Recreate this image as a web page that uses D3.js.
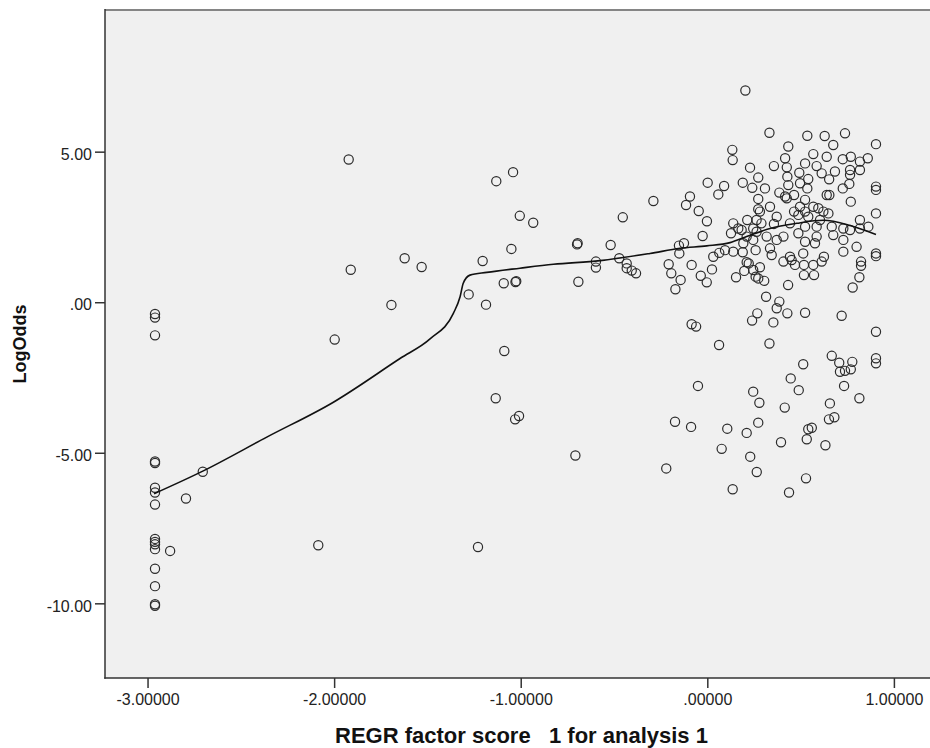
<!DOCTYPE html>
<html>
<head>
<meta charset="utf-8">
<script src="https://cdn.jsdelivr.net/npm/d3@7"></script>
<style>
  body { margin: 0; background: #ffffff; }
  text { font-family: "Liberation Sans", Arial, sans-serif; }
</style>
</head>
<body>
<svg id="chart" width="930" height="748"></svg>
<script>
// Factor scores (x) and log odds (y), grouped by region of the score axis.
const lowScores   = [-2.96,-2.96,-2.96,-2.96,-2.96,-2.96,-2.96,-2.96,-2.96,-2.96,-2.96,-2.96,-2.96,-2.96,-2.96,-2.96];
const lowOdds     = [-0.39,-0.51,-1.10,-5.29,-5.34,-6.16,-6.32,-6.72,-7.86,-7.96,-8.04,-8.20,-8.85,-9.43,-10.03,-10.08];

const leftScores  = [-2.879,-2.794,-2.704,-2.085,-1.997,-1.922,-1.911,-1.693,-1.622,-1.531];
const leftOdds    = [-8.26,-6.52,-5.63,-8.07,-1.24,4.74,1.08,-0.09,1.46,1.17];

const midScores   = [-1.279,-1.229,-1.204,-1.186,-1.134,-1.131,-1.091,-1.088,-1.050,-1.041,
                     -1.030,-1.028,-1.024,-1.009,-1.005,-0.933,-0.707,-0.698,-0.695,-0.691];
const midOdds     = [0.26,-8.13,1.37,-0.08,-3.19,4.02,0.63,-1.62,1.77,4.32,
                     -3.89,0.67,0.70,-3.78,2.87,2.64,-5.09,1.92,1.96,0.68];

const centerScores = [-0.597,-0.597,-0.518,-0.472,-0.453,-0.432,-0.432,-0.405,-0.382,-0.289,
                      -0.220,-0.207,-0.193,-0.173,-0.171,-0.152,-0.150,-0.143,-0.125,-0.114,
                      -0.093,-0.087,-0.084,-0.084,-0.060,-0.050,-0.046,-0.035,-0.025,-0.003,
                      -0.002,0.002,0.025,0.032,0.059,0.063,0.064,0.077,0.090,0.095,
                      0.107,0.127,0.134,0.136,0.136,0.139,0.139,0.154,0.166,0.184,
                      0.190,0.190,0.193,0.198];
const centerOdds   = [1.35,1.15,1.90,1.46,2.82,1.29,1.13,1.05,0.96,3.36,
                      -5.52,1.26,0.96,-3.97,0.43,1.88,1.62,0.74,1.96,3.23,
                      3.51,-4.14,1.24,-0.73,-0.81,-2.78,3.03,0.88,2.20,0.66,
                      2.69,3.97,1.09,1.51,3.58,-1.42,1.64,-4.87,3.86,1.73,
                      -4.20,2.29,5.06,4.72,-6.21,2.62,1.68,0.83,2.45,2.40,
                      3.97,1.66,1.96,1.04];

const rightScores = [0.204,0.211,0.211,0.211,0.214,0.222,0.229,0.230,0.240,0.241,
                     0.246,0.246,0.246,0.246,0.259,0.259,0.264,0.264,0.265,0.268,
                     0.273,0.273,0.273,0.273,0.273,0.279,0.282,0.282,0.290,0.305,
                     0.309,0.315,0.318,0.333,0.333,0.336,0.336,0.345,0.354,0.357,
                     0.357,0.372,0.372,0.372,0.386,0.386,0.395,0.408,0.408,0.415,
                     0.417,0.417,0.426,0.426,0.429,0.429,0.433,0.434,0.434,0.438,
                     0.443,0.443,0.447,0.452,0.465,0.465,0.470,0.488,0.488,0.490,
                     0.493,0.497,0.497];
const rightOdds   = [7.03,2.18,1.33,-4.34,2.73,1.29,4.47,-5.13,-0.61,3.80,
                     2.45,1.07,-2.97,2.07,1.73,0.85,2.73,2.34,-5.64,-0.37,
                     4.14,3.43,3.09,0.79,-4.00,-3.34,1.16,3.01,2.62,0.71,
                     3.78,0.18,2.18,5.63,-1.37,1.79,3.17,1.57,-0.67,4.52,
                     2.60,2.84,2.07,-0.20,0.02,3.64,-4.65,2.18,1.35,-3.50,
                     4.78,3.51,4.48,3.45,4.17,-0.37,0.57,5.17,3.89,-6.32,
                     2.62,1.51,-2.53,1.40,3.56,3.01,1.24,2.90,2.29,-2.92,
                     4.30,3.95,3.17];

const highScores  = [0.514,0.514,0.518,0.518,0.524,0.524,0.524,0.524,0.524,0.524,
                     0.529,0.533,0.536,0.536,0.541,0.541,0.541,0.560,0.568,0.568,
                     0.568,0.572,0.577,0.586,0.586,0.586,0.595,0.604,0.613,0.613,
                     0.622,0.625,0.629,0.633,0.640,0.640,0.649,0.652,0.653,0.654,
                     0.657,0.667,0.667,0.675,0.675,0.681,0.684,0.707,0.711,0.720,
                     0.726,0.726,0.729,0.729,0.729,0.733,0.738,0.738,0.761,0.765,
                     0.765,0.765,0.769,0.769,0.769,0.777,0.779,0.800,0.815,0.815,
                     0.818,0.818,0.818,0.818,0.824,0.824,0.860,0.863,
                     0.904,0.904,0.904,0.904,0.904,0.904,0.904,0.904,0.904];
const highOdds    = [-2.06,1.62,1.24,0.90,4.61,3.40,3.01,2.51,2.01,-0.35,
                     -5.85,-4.55,5.53,3.78,4.09,-4.22,2.84,-4.17,4.92,3.17,
                     1.24,0.90,1.96,4.52,2.51,2.18,3.12,2.73,4.28,1.35,
                     3.01,1.51,5.52,-4.75,4.83,3.56,2.95,-3.89,4.08,3.56,
                     -3.36,2.51,-1.78,5.22,2.23,-3.82,4.34,-2.01,-2.31,-0.45,
                     4.75,3.78,2.45,2.07,1.68,-2.78,5.61,-2.28,3.93,4.39,
                     4.23,2.40,4.83,3.34,-2.23,-1.98,0.49,1.84,0.83,-3.19,
                     4.67,4.39,2.73,2.45,1.21,1.35,4.78,2.51,
                     5.25,3.84,3.73,2.95,1.62,1.53,-0.98,-1.86,-2.03];

// Loess fit line through the cloud.
const fitScores = [-2.965,-2.704,-2.361,-2.004,-1.647,-1.486,-1.361,-1.325,-1.308,-1.272,
                   -1.182,-1.004,-0.825,-0.575,-0.307,-0.146,-0.003,0.122,0.211,0.336,
                   0.479,0.622,0.765,0.904];
const fitOdds   = [-6.36,-5.61,-4.48,-3.32,-1.87,-1.22,-0.37,0.18,0.63,0.90,
                   0.99,1.13,1.26,1.38,1.62,1.79,1.87,1.98,2.18,2.45,
                   2.62,2.72,2.55,2.25];

// Axis ticks and labels.
const xTicks = [-3, -2, -1, 0, 1];
const xTickLabels = ["-3.00000", "-2.00000", "-1.00000", ".00000", "1.00000"];
const yTicks = [5, 0, -5, -10];
const yTickLabels = ["5.00", ".00", "-5.00", "-10.00"];
const xTitle = "REGR factor score   1 for analysis 1";
const yTitle = "LogOdds";

const groups = [
  [lowScores, lowOdds], [leftScores, leftOdds], [midScores, midOdds],
  [centerScores, centerOdds], [rightScores, rightOdds], [highScores, highOdds]
];
const points = groups.flatMap(([xs, ys]) => xs.map((v, i) => ({ x: v, y: ys[i] })));
const fit = fitScores.map((v, i) => ({ x: v, y: fitOdds[i] }));

const plot = { left: 105, right: 930, top: 10, bottom: 678 };
const x = d3.scaleLinear().domain([-3.228, 1.1935]).range([plot.left, plot.right]);
const y = d3.scaleLinear().domain([-12.48, 9.705]).range([plot.bottom, plot.top]);

const svg = d3.select("#chart");

svg.append("rect")
  .attr("x", plot.left).attr("y", plot.top)
  .attr("width", plot.right - plot.left).attr("height", plot.bottom - plot.top)
  .attr("fill", "#f0f0f0");

svg.append("g")
  .selectAll("circle")
  .data(points)
  .join("circle")
  .attr("cx", d => x(d.x))
  .attr("cy", d => y(d.y))
  .attr("r", 4.6)
  .attr("fill", "none")
  .attr("stroke", "#2b2b2b")
  .attr("stroke-width", 1.2);

svg.append("path")
  .datum(fit)
  .attr("fill", "none")
  .attr("stroke", "#111")
  .attr("stroke-width", 1.6)
  .attr("d", d3.line().x(d => x(d.x)).y(d => y(d.y)).curve(d3.curveMonotoneX));

// Frame: grey top edge, dark left and bottom edges.
svg.append("line")
  .attr("x1", plot.left).attr("x2", plot.right)
  .attr("y1", plot.top).attr("y2", plot.top)
  .attr("stroke", "#858585").attr("stroke-width", 2);
svg.append("line")
  .attr("x1", plot.left).attr("x2", plot.left)
  .attr("y1", plot.top - 1).attr("y2", plot.bottom + 0.75)
  .attr("stroke", "#333").attr("stroke-width", 1.5);
svg.append("line")
  .attr("x1", plot.left - 0.75).attr("x2", plot.right)
  .attr("y1", plot.bottom).attr("y2", plot.bottom)
  .attr("stroke", "#333").attr("stroke-width", 1.5);

const yAxis = svg.append("g")
  .attr("transform", `translate(${plot.left},0)`)
  .call(d3.axisLeft(y).tickValues(yTicks).tickFormat((d, i) => yTickLabels[i])
    .tickSize(10).tickPadding(3));
yAxis.select(".domain").remove();
yAxis.selectAll(".tick line").attr("stroke", "#333").attr("stroke-width", 1.5);
yAxis.selectAll(".tick text")
  .attr("dy", "0.48em")
  .attr("fill", "#222")
  .style("font-size", "16px")
  .style("font-family", "'Liberation Sans', Arial, sans-serif");

const xAxis = svg.append("g")
  .attr("transform", `translate(0,${plot.bottom})`)
  .call(d3.axisBottom(x).tickValues(xTicks).tickFormat((d, i) => xTickLabels[i])
    .tickSize(10).tickPadding(6));
xAxis.select(".domain").remove();
xAxis.selectAll(".tick line").attr("stroke", "#333").attr("stroke-width", 1.5);
xAxis.selectAll(".tick text")
  .attr("fill", "#222")
  .style("font-size", "16px")
  .style("font-family", "'Liberation Sans', Arial, sans-serif");

svg.append("text")
  .attr("x", (plot.left + plot.right) / 2 + 4)
  .attr("y", 743)
  .attr("text-anchor", "middle")
  .attr("font-weight", "bold")
  .attr("font-size", 22)
  .attr("fill", "#111")
  .style("white-space", "pre")
  .text(xTitle);

svg.append("text")
  .attr("transform", `translate(26,${(plot.top + plot.bottom) / 2}) rotate(-90)`)
  .attr("text-anchor", "middle")
  .attr("font-weight", "bold")
  .attr("font-size", 18)
  .attr("fill", "#111")
  .text(yTitle);
</script>
</body>
</html>
